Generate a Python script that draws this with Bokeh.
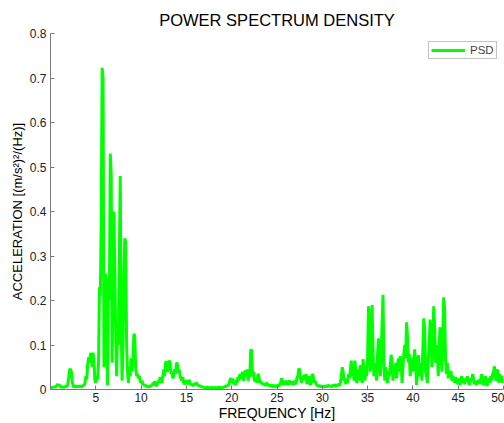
import numpy as np
from bokeh.plotting import figure
from bokeh.models import Range1d, FixedTicker
from bokeh.embed import file_html
from bokeh.resources import INLINE

freq_step = 0.1  # Hz, spectral resolution

psd_00_05 = [0.003, 0.005, 0.004, 0.006, 0.005, 0.007, 0.006, 0.009, 0.012, 0.008,
             0.010, 0.006, 0.005, 0.007, 0.004, 0.006, 0.005, 0.008, 0.006, 0.012,
             0.025, 0.044, 0.046, 0.040, 0.018, 0.008, 0.006, 0.009, 0.007, 0.005,
             0.008, 0.006, 0.009, 0.005, 0.007, 0.006, 0.010, 0.008, 0.015, 0.030,
             0.022, 0.055, 0.072, 0.060, 0.078, 0.082, 0.050, 0.083, 0.065, 0.020]
psd_05_10 = [0.015, 0.030, 0.022, 0.060, 0.230, 0.210, 0.380, 0.723, 0.700, 0.050,
             0.090, 0.260, 0.150, 0.010, 0.250, 0.200, 0.530, 0.480, 0.060, 0.250,
             0.400, 0.260, 0.120, 0.030, 0.150, 0.100, 0.300, 0.480, 0.150, 0.020,
             0.100, 0.250, 0.340, 0.330, 0.100, 0.040, 0.015, 0.050, 0.030, 0.070,
             0.040, 0.070, 0.125, 0.120, 0.050, 0.030, 0.035, 0.025, 0.030, 0.020]
psd_10_15 = [0.015, 0.020, 0.010, 0.012, 0.008, 0.010, 0.006, 0.008, 0.005, 0.007,
             0.006, 0.010, 0.008, 0.015, 0.012, 0.018, 0.010, 0.008, 0.012, 0.020,
             0.015, 0.028, 0.020, 0.015, 0.030, 0.045, 0.030, 0.060, 0.063, 0.040,
             0.055, 0.065, 0.060, 0.035, 0.040, 0.025, 0.030, 0.045, 0.035, 0.060,
             0.058, 0.040, 0.045, 0.030, 0.025, 0.020, 0.028, 0.015, 0.012, 0.018]
psd_15_20 = [0.020, 0.015, 0.012, 0.022, 0.015, 0.010, 0.012, 0.008, 0.010, 0.014,
             0.010, 0.016, 0.012, 0.008, 0.010, 0.006, 0.008, 0.005, 0.007, 0.004,
             0.005, 0.003, 0.004, 0.006, 0.004, 0.005, 0.003, 0.004, 0.005, 0.003,
             0.004, 0.003, 0.005, 0.004, 0.003, 0.004, 0.006, 0.004, 0.003, 0.005,
             0.004, 0.006, 0.005, 0.008, 0.006, 0.010, 0.008, 0.012, 0.020, 0.026]
psd_20_25 = [0.015, 0.025, 0.012, 0.018, 0.010, 0.022, 0.015, 0.028, 0.020, 0.035,
             0.025, 0.030, 0.040, 0.020, 0.030, 0.043, 0.035, 0.045, 0.020, 0.030,
             0.028, 0.090, 0.088, 0.030, 0.040, 0.022, 0.018, 0.025, 0.015, 0.035,
             0.030, 0.015, 0.020, 0.012, 0.015, 0.010, 0.014, 0.008, 0.012, 0.015,
             0.010, 0.008, 0.012, 0.006, 0.010, 0.008, 0.006, 0.010, 0.007, 0.005]
psd_25_30 = [0.008, 0.010, 0.006, 0.012, 0.015, 0.025, 0.020, 0.010, 0.018, 0.012,
             0.020, 0.015, 0.010, 0.016, 0.020, 0.012, 0.018, 0.015, 0.010, 0.020,
             0.015, 0.012, 0.025, 0.030, 0.047, 0.045, 0.025, 0.015, 0.030, 0.020,
             0.033, 0.025, 0.035, 0.012, 0.020, 0.030, 0.015, 0.010, 0.025, 0.035,
             0.030, 0.015, 0.020, 0.012, 0.010, 0.008, 0.010, 0.006, 0.008, 0.007]
psd_30_35 = [0.006, 0.008, 0.005, 0.007, 0.009, 0.006, 0.008, 0.010, 0.007, 0.009,
             0.006, 0.008, 0.010, 0.008, 0.011, 0.009, 0.007, 0.010, 0.012, 0.008,
             0.015, 0.030, 0.050, 0.040, 0.020, 0.025, 0.012, 0.020, 0.015, 0.035,
             0.025, 0.045, 0.065, 0.030, 0.050, 0.020, 0.065, 0.040, 0.015, 0.030,
             0.045, 0.020, 0.055, 0.035, 0.015, 0.068, 0.050, 0.020, 0.040, 0.030]
psd_35_40 = [0.070, 0.187, 0.150, 0.040, 0.120, 0.190, 0.080, 0.030, 0.060, 0.045,
             0.020, 0.080, 0.115, 0.060, 0.030, 0.070, 0.150, 0.213, 0.060, 0.020,
             0.050, 0.035, 0.015, 0.040, 0.030, 0.055, 0.078, 0.060, 0.020, 0.045,
             0.030, 0.060, 0.025, 0.050, 0.070, 0.040, 0.075, 0.060, 0.015, 0.050,
             0.080, 0.100, 0.070, 0.151, 0.120, 0.060, 0.080, 0.030, 0.055, 0.070]
psd_40_45 = [0.040, 0.070, 0.090, 0.060, 0.010, 0.040, 0.077, 0.050, 0.030, 0.060,
             0.020, 0.090, 0.160, 0.138, 0.040, 0.030, 0.015, 0.070, 0.100, 0.157,
             0.120, 0.050, 0.110, 0.187, 0.140, 0.060, 0.100, 0.080, 0.030, 0.100,
             0.140, 0.090, 0.040, 0.120, 0.207, 0.180, 0.070, 0.035, 0.060, 0.025,
             0.040, 0.035, 0.042, 0.020, 0.030, 0.025, 0.015, 0.028, 0.020, 0.012]
psd_45_50 = [0.025, 0.018, 0.010, 0.022, 0.030, 0.015, 0.020, 0.012, 0.025, 0.018,
             0.030, 0.020, 0.010, 0.015, 0.025, 0.020, 0.035, 0.022, 0.012, 0.018,
             0.010, 0.020, 0.015, 0.022, 0.012, 0.025, 0.035, 0.020, 0.010, 0.018,
             0.030, 0.015, 0.008, 0.020, 0.025, 0.015, 0.030, 0.020, 0.035, 0.040,
             0.052, 0.030, 0.020, 0.045, 0.040, 0.015, 0.035, 0.020, 0.030, 0.015,
             0.020]

x_ticks = [5, 10, 15, 20, 25, 30, 35, 40, 45, 50]
y_ticks = [0, 0.1, 0.2, 0.3, 0.4, 0.5, 0.6, 0.7, 0.8]
y_tick_labels = ["0", "0.1", "0.2", "0.3", "0.4", "0.5", "0.6", "0.7", "0.8"]

psd = (psd_00_05 + psd_05_10 + psd_10_15 + psd_15_20 + psd_20_25 +
       psd_25_30 + psd_30_35 + psd_35_40 + psd_40_45 + psd_45_50)
freq = np.arange(len(psd)) * freq_step

FONT = "Liberation Sans"
AXC = "#7a7a7a"

p = figure(width=504, height=423, output_backend="svg", toolbar_location=None,
           x_range=Range1d(0, 50), y_range=Range1d(0, 0.8),
           min_border_left=50, min_border_right=1, min_border_top=33,
           min_border_bottom=34, title="POWER SPECTRUM DENSITY")
p.outline_line_color = None
p.grid.visible = False
p.background_fill_color = "white"
p.border_fill_color = "white"

p.title.align = "center"
p.title.text_font = FONT
p.title.text_font_size = "16.5px"
p.title.text_font_style = "normal"
p.title.text_color = "black"

p.line(freq, psd, line_color="#00ff00", line_width=3, legend_label="PSD")

for ax in (p.xaxis[0], p.yaxis[0]):
    ax.axis_line_color = AXC
    ax.major_tick_line_color = AXC
    ax.major_tick_in = 4
    ax.major_tick_out = 0
    ax.minor_tick_line_color = None
    ax.major_label_text_font = FONT
    ax.major_label_text_font_size = "12px"
    ax.major_label_text_color = "#222222"
    ax.axis_label_text_font = FONT
    ax.axis_label_text_font_style = "normal"
    ax.axis_label_text_color = "black"

p.xaxis.axis_label_text_font_size = "14px"
p.yaxis.axis_label_text_font_size = "13px"
p.xaxis.ticker = FixedTicker(ticks=x_ticks)
p.yaxis.ticker = FixedTicker(ticks=y_ticks)
p.yaxis.major_label_overrides = {t: l for t, l in zip(y_ticks, y_tick_labels)}
p.xaxis.axis_label = "FREQUENCY [Hz]"
p.yaxis.axis_label = "ACCELERATION [(m/s²)²/(Hz)]"
p.xaxis.major_label_standoff = 3
p.yaxis.major_label_standoff = 4
p.xaxis.axis_label_standoff = 0
p.yaxis.axis_label_standoff = 2

lg = p.legend[0]
lg.location = (378, 330)
lg.margin = 0
lg.padding = 2
lg.spacing = 0
lg.glyph_width = 34
lg.glyph_height = 10
lg.label_height = 10
lg.label_standoff = 5
lg.label_text_font = FONT
lg.label_text_font_size = "11.5px"
lg.border_line_color = "#888888"
lg.border_line_width = 1
lg.background_fill_alpha = 1

open("out.html", "w").write(file_html(p, INLINE))
